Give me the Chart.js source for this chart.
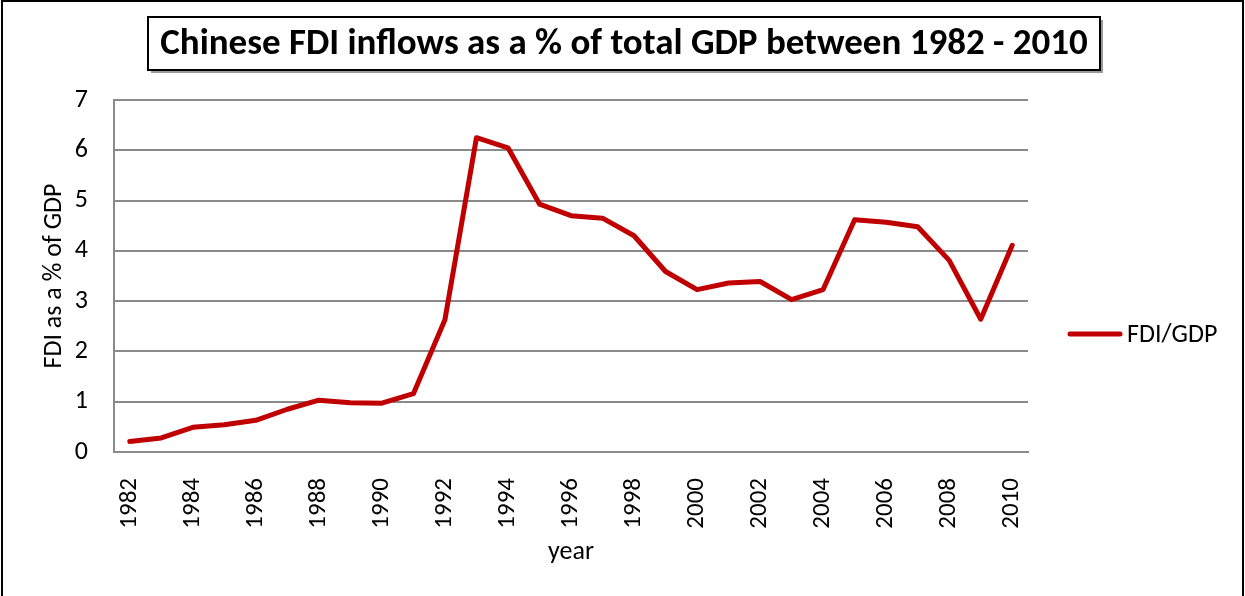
<!DOCTYPE html>
<html>
<head>
<meta charset="utf-8">
<title>Chinese FDI inflows</title>
<script src="https://cdn.jsdelivr.net/npm/chart.js@4.4.1/dist/chart.umd.min.js"></script>
<style>
  html, body { margin: 0; padding: 0; background: #fff; }
  #wrap { width: 1245px; height: 596px; position: relative; }
</style>
</head>
<body>
<div id="wrap"><canvas id="chart" width="1245" height="596"></canvas></div>
<script>
const years = ["1982", "1983", "1984", "1985", "1986", "1987", "1988", "1989", "1990", "1991",
  "1992", "1993", "1994", "1995", "1996", "1997", "1998", "1999", "2000", "2001",
  "2002", "2003", "2004", "2005", "2006", "2007", "2008", "2009", "2010"];
const fdiGdp = [0.21, 0.28, 0.49, 0.54, 0.63, 0.85, 1.03, 0.98, 0.97, 1.16,
  2.63, 6.25, 6.05, 4.93, 4.70, 4.65, 4.30, 3.59, 3.23, 3.36,
  3.39, 3.03, 3.23, 4.62, 4.57, 4.48, 3.81, 2.64, 4.11];
const yTicks = [0, 1, 2, 3, 4, 5, 6, 7];

const FONT = "'Liberation Sans Narrow', Carlito, 'Open Sans', sans-serif";
const RED = "#c00000";
const GRID = "#8a8a8a";

// frame, boxed title and the single legend entry
const decorations = {
  id: "decorations",
  beforeDraw(chart) {
    const ctx = chart.ctx;
    ctx.save();
    ctx.fillStyle = "#fff";
    ctx.fillRect(0, 0, chart.width, chart.height);
    ctx.strokeStyle = "#000";
    ctx.lineWidth = 2;
    ctx.strokeRect(2, 1, chart.width - 4, chart.height + 10);
    ctx.restore();
  },
  afterDraw(chart) {
    const ctx = chart.ctx;
    const area = chart.chartArea;
    ctx.save();

    // title box with a soft shadow
    const bx = 148, by = 17, bw = 952, bh = 53;
    ctx.fillStyle = "#9a9a9a";
    ctx.fillRect(bx + 3, by + 3, bw, bh);
    ctx.fillStyle = "#fff";
    ctx.fillRect(bx, by, bw, bh);
    ctx.strokeStyle = "#000";
    ctx.lineWidth = 2;
    ctx.strokeRect(bx, by, bw, bh);
    ctx.fillStyle = "#000";
    ctx.font = "bold 37px " + FONT;
    ctx.textAlign = "center";
    ctx.textBaseline = "middle";
    ctx.fillText("Chinese FDI inflows as a % of total GDP between 1982 - 2010", bx + bw / 2, by + bh / 2 + 1);

    // legend
    const ly = 334;
    ctx.strokeStyle = RED;
    ctx.lineWidth = 5;
    ctx.lineCap = "round";
    ctx.beginPath();
    ctx.moveTo(area.right + 42, ly);
    ctx.lineTo(area.right + 92, ly);
    ctx.stroke();
    ctx.fillStyle = "#000";
    ctx.font = "26px " + FONT;
    ctx.textAlign = "left";
    ctx.fillText(chart.data.datasets[0].label, area.right + 99, ly + 1);
    ctx.restore();
  }
};

new Chart(document.getElementById("chart"), {
  type: "line",
  data: {
    labels: years,
    datasets: [{
      label: "FDI/GDP",
      data: fdiGdp,
      borderColor: RED,
      backgroundColor: RED,
      borderWidth: 5,
      borderCapStyle: "round",
      borderJoinStyle: "round",
      pointRadius: 0,
      tension: 0,
      fill: false
    }]
  },
  options: {
    responsive: false,
    animation: false,
    layout: { padding: { top: 100, right: 217, left: 0, bottom: 0 } },
    plugins: {
      legend: { display: false },
      title: { display: false },
      tooltip: { enabled: false }
    },
    scales: {
      x: {
        offset: true,
        grid: { display: false },
        border: { display: true, color: GRID, width: 2 },
        ticks: {
          autoSkip: false,
          minRotation: 90,
          maxRotation: 90,
          padding: 18,
          color: "#000",
          font: { family: FONT, size: 25 },
          callback(value, index) {
            return index % 2 === 0 ? this.getLabelForValue(value) : "";
          }
        },
        title: {
          display: true,
          text: "year",
          color: "#000",
          font: { family: FONT, size: 26 },
          padding: { top: 0, bottom: 28 }
        },
        afterFit(scale) { scale.height = 144; }
      },
      y: {
        min: 0,
        max: 7,
        afterBuildTicks(scale) { scale.ticks = yTicks.map(v => ({ value: v })); },
        grid: { color: GRID, lineWidth: 2, drawTicks: false },
        border: { display: true, color: GRID, width: 2 },
        ticks: {
          padding: 26,
          color: "#000",
          font: { family: FONT, size: 26 }
        },
        title: {
          display: true,
          text: "FDI as a % of GDP",
          color: "#000",
          font: { family: FONT, size: 26 },
          padding: { top: 39, bottom: 0 }
        },
        afterFit(scale) { scale.width = 114; }
      }
    }
  },
  plugins: [decorations]
});
</script>
</body>
</html>
